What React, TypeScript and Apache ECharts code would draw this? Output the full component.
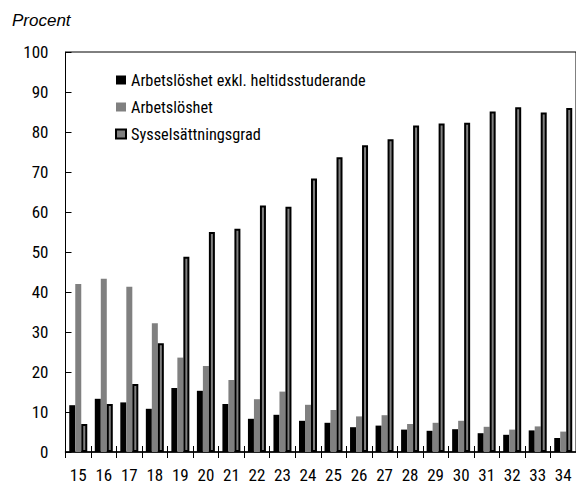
import React, { useEffect, useRef } from "react";
import * as echarts from "echarts";

const categories = ["15","16","17","18","19","20","21","22","23","24","25","26","27","28","29","30","31","32","33","34"];
const unempExclStudents = [11.7, 13.3, 12.4, 10.8, 16.0, 15.3, 12.0, 8.3, 9.3, 7.8, 7.3, 6.2, 6.6, 5.6, 5.3, 5.7, 4.7, 4.3, 5.4, 3.5];
const unemployment = [42.0, 43.3, 41.3, 32.2, 23.6, 21.5, 18.0, 13.2, 15.1, 11.8, 10.5, 8.9, 9.2, 7.0, 7.3, 7.8, 6.3, 5.6, 6.4, 5.1];
const employmentRate = [7.0, 12.0, 17.0, 27.2, 48.8, 55.0, 55.8, 61.6, 61.3, 68.4, 73.7, 76.7, 78.2, 81.6, 82.1, 82.3, 85.1, 86.2, 84.9, 86.0];
const seriesNames = ["Arbetslöshet exkl. heltidsstuderande", "Arbetslöshet", "Sysselsättningsgrad"];
const yTitle = "Procent";

const FONT = "'Roboto Condensed', 'Liberation Sans Narrow', sans-serif";

export default function App() {
  const ref = useRef<HTMLDivElement>(null);
  useEffect(() => {
    if (!ref.current) return;
    const chart = echarts.init(ref.current, undefined, { renderer: "svg" });
    const grey = "#808080";
    chart.setOption({
      animation: false,
      backgroundColor: "#ffffff",
      textStyle: { fontFamily: FONT },
      graphic: [
        {
          type: "text",
          left: 12,
          top: 12,
          style: { text: yTitle, font: "italic 17px 'Liberation Sans', Arial, sans-serif", fill: "#000" },
        },
      ],
      legend: {
        orient: "vertical",
        left: 110,
        top: 67,
        itemGap: 11,
        itemWidth: 10,
        itemHeight: 9,
        icon: "rect",
        textStyle: { fontFamily: FONT, fontSize: 16.3, color: "#000" },
        data: [
          { name: seriesNames[0], itemStyle: { color: "#000" } },
          { name: seriesNames[1], itemStyle: { color: grey } },
          { name: seriesNames[2], itemStyle: { color: grey, borderColor: "#000", borderWidth: 2 } },
        ],
      },
      grid: {
        left: 65.5,
        top: 52,
        width: 512.6,
        bottom: 32,
        show: true,
        borderColor: "#000",
        borderWidth: 1,
        containLabel: false,
      },
      xAxis: [
        {
          type: "category",
          data: categories,
          position: "bottom",
          axisLine: { lineStyle: { color: "#000", width: 1.5 } },
          axisTick: { show: true, length: 6, lineStyle: { color: "#000" } },
          axisLabel: { color: "#000", fontSize: 17, fontFamily: FONT, margin: 14 },
        },
        {
          type: "category",
          data: categories,
          position: "bottom",
          axisLine: { show: false },
          axisTick: { show: true, inside: true, length: 6, lineStyle: { color: "#000" } },
          axisLabel: { show: false },
        },
      ],
      yAxis: {
        type: "value",
        min: 0,
        max: 100,
        interval: 10,
        splitLine: { show: false },
        axisLine: { show: true, lineStyle: { color: "#000" } },
        axisTick: { show: true, inside: true, length: 6, lineStyle: { color: "#000" } },
        axisLabel: { color: "#000", fontSize: 17, fontFamily: FONT, margin: 17 },
      },
      series: [
        {
          name: seriesNames[0],
          type: "bar",
          data: unempExclStudents,
          barWidth: 6,
          barGap: "0%",
          itemStyle: { color: "#000" },
        },
        {
          name: seriesNames[1],
          type: "bar",
          data: unemployment,
          barWidth: 6,
          barGap: "0%",
          itemStyle: { color: grey },
        },
        {
          name: seriesNames[2],
          type: "bar",
          data: employmentRate,
          barWidth: 6,
          barGap: "0%",
          itemStyle: { color: grey, borderColor: "#000", borderWidth: 2 },
        },
      ],
    });
    return () => chart.dispose();
  }, []);
  return (
    <div
      ref={ref}
      style={{ position: "absolute", left: 0, top: 0, width: 576, height: 484 }}
    />
  );
}
